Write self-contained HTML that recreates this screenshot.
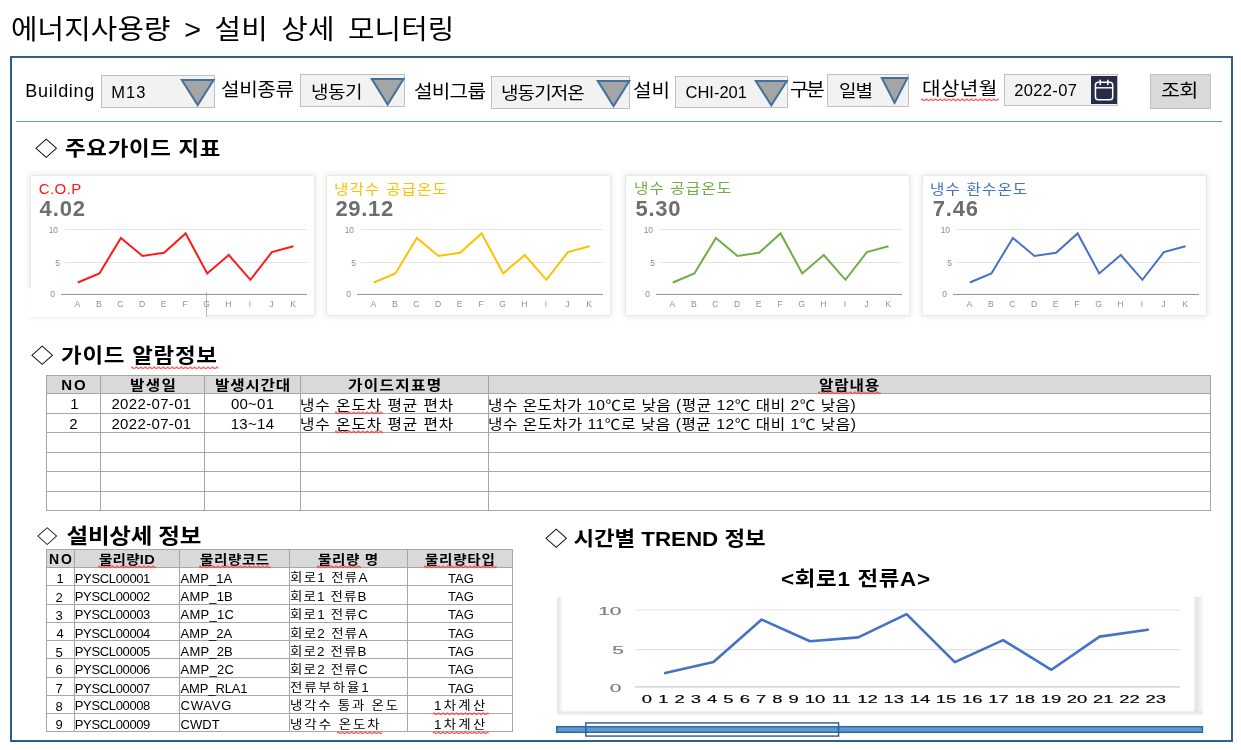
<!DOCTYPE html>
<html lang="ko">
<head>
<meta charset="utf-8">
<title>에너지사용량 &gt; 설비 상세 모니터링</title>
<style>
html,body{margin:0;padding:0;background:#fff;}
body{width:1241px;height:750px;position:relative;overflow:hidden;
  font-family:"Liberation Sans","Noto Sans CJK KR",sans-serif;color:#000;}
.abs{position:absolute;white-space:nowrap;line-height:1;}
.kx{transform:scaleX(1.12);transform-origin:0 0;}
#frame{position:absolute;left:10px;top:56px;width:1219px;height:682px;border:2px solid #2c5f8e;box-sizing:content-box;}
#hline{position:absolute;left:16px;top:121px;width:1206px;height:1px;background:#5b9bd5;}
.lbl{font-size:18px;}
.sel{position:absolute;background:#f2f2f2;border:1px solid #bfbfbf;box-sizing:border-box;}
.sel span{position:absolute;white-space:nowrap;line-height:1;font-size:16.5px;}
.tri{position:absolute;overflow:visible;}
.h2{font-weight:bold;font-size:20px;}
.card{position:absolute;top:176px;width:283px;height:139px;background:#fff;
  box-shadow:0 0 1px 0 rgba(0,0,0,.22),0 0 6px 2px rgba(0,0,0,.09);}
.card .t{position:absolute;left:9px;top:7px;font-size:14px;line-height:1;white-space:nowrap;}
.card .v{position:absolute;left:9px;top:25px;font-size:22px;font-weight:bold;color:#6e6e6e;line-height:1;white-space:nowrap;}
.card svg{position:absolute;left:0;top:0;}
table{border-collapse:collapse;position:absolute;table-layout:fixed;}
td,th{border:1px solid #a6a6a6;padding:0;line-height:1;white-space:nowrap;overflow:visible;font-weight:normal;}
th{background:#d9d9d9;font-weight:bold;text-align:center;}

td span,th span{display:inline-block;position:relative;white-space:nowrap;line-height:1;}
#t1{left:46px;top:375px;width:1164px;font-size:15px;}
#t1 th{font-size:14px;}
#t1 th #ah0{font-size:15px;}
#t1 td{text-align:center;}
#t1 td.l{font-size:14px;}
#t1 td.l{text-align:left;}
.sq{position:relative;display:inline-block;text-decoration:none;line-height:1;}
.sq>svg{position:absolute;left:-1px;bottom:-3.2px;width:calc(100% + 2px);height:3.4px;overflow:hidden;}
#t2{left:46px;top:549px;width:467px;font-size:13px;}
#t2 th{font-size:13px;}
#t2 th #bh0{font-size:14px;}
#t2 .kx{font-size:12px;}
#t2 th .kx{font-size:13px;}
#t2 td{text-align:left;}
#t2 td.c{text-align:center;}
</style>
</head>
<body>
<svg width="0" height="0" style="position:absolute"><defs><pattern id="sqp" width="4" height="3.4" patternUnits="userSpaceOnUse"><path d="M-1,2.95 L1,0.95 L3,2.95 L5,0.95" fill="none" stroke="#ff3030" stroke-width="0.95"/></pattern></defs></svg>
<div id="title" class="abs kx" style="left:11.0px;top:17.0px;font-size:27px;letter-spacing:0.15px;word-spacing:5px;transform:scaleX(1.065)">에너지사용량 &gt; 설비 상세 모니터링</div>
<div id="frame"></div>
<div id="hline"></div>

<!-- FILTER BAR -->
<div id="l1" class="abs lbl" style="left:25.3px;top:81.5px;font-size:18px;letter-spacing:0.71px">Building</div>
<div class="sel" style="left:101px;top:75px;width:114px;height:33px"><span id="s1" style="left:9.2px;top:8.1px;letter-spacing:1.1px">M13</span></div>
<svg class="tri" style="left:180.4px;top:79.3px" width="35.4" height="28.1" viewBox="0 0 35.4 28.1"><polygon points="1.8,1 33.6,1 17.70,26.1" fill="#a5a5a5" stroke="#41719c" stroke-width="2" stroke-linejoin="miter"/></svg>
<div id="l2" class="abs kx lbl" style="left:221.0px;top:81.0px;letter-spacing:-0.34px">설비종류</div>
<div class="sel" style="left:300px;top:74px;width:105px;height:33px"><span id="s2" class="kx" style="left:10.0px;top:8.5px;font-size:17px;letter-spacing:-0.5px">냉동기</span></div>
<svg class="tri" style="left:370.4px;top:77.7px" width="35.3" height="28.5" viewBox="0 0 35.3 28.5"><polygon points="1.8,1 33.5,1 17.65,26.5" fill="#a5a5a5" stroke="#41719c" stroke-width="2" stroke-linejoin="miter"/></svg>
<div id="l3" class="abs kx lbl" style="left:414.0px;top:83.0px;letter-spacing:-0.67px">설비그룹</div>
<div class="sel" style="left:491px;top:76px;width:139px;height:33px"><span id="s3" class="kx" style="left:9.3px;top:8.0px;font-size:17px;letter-spacing:-0.85px">냉동기저온</span></div>
<svg class="tri" style="left:595.6px;top:79.9px" width="35.1" height="28.1" viewBox="0 0 35.1 28.1"><polygon points="1.8,1 33.3,1 17.55,26.1" fill="#a5a5a5" stroke="#41719c" stroke-width="2" stroke-linejoin="miter"/></svg>
<div id="l4" class="abs kx lbl" style="left:633.0px;top:82.0px;letter-spacing:0.0px">설비</div>
<div class="sel" style="left:675px;top:76px;width:113px;height:32px"><span id="s4" style="left:9.5px;top:7.0px">CHI-201</span></div>
<svg class="tri" style="left:754px;top:79.5px" width="34.6" height="27.3" viewBox="0 0 34.6 27.3"><polygon points="1.8,1 32.8,1 17.30,25.3" fill="#a5a5a5" stroke="#41719c" stroke-width="2" stroke-linejoin="miter"/></svg>
<div id="l5" class="abs kx lbl" style="left:789.7px;top:81.0px;letter-spacing:-2.0px">구분</div>
<div class="sel" style="left:827px;top:74px;width:82px;height:33px"><span id="s5" class="kx" style="left:11.0px;top:8.0px;font-size:17px;letter-spacing:-1.0px">일별</span></div>
<svg class="tri" style="left:879.8px;top:77.4px" width="29.2" height="27.9" viewBox="0 0 29.2 27.9"><polygon points="1.8,1 27.4,1 14.60,25.9" fill="#a5a5a5" stroke="#41719c" stroke-width="2" stroke-linejoin="miter"/></svg>
<div id="l6" class="abs kx lbl" style="left:922.0px;top:80.0px;letter-spacing:0.33px"><span class="sq">대상년월<svg aria-hidden="true"><rect width="100%" height="3.4" fill="url(#sqp)"/></svg></span></div>
<div class="sel" style="left:1004px;top:74px;width:114px;height:32px"><span id="s6" style="left:9.3px;top:7.0px;letter-spacing:0.33px">2022-07</span></div>
<div id="cal" style="position:absolute;left:1091px;top:76px;width:26px;height:28px;background:#272c4a">
<svg width="26" height="28" viewBox="0 0 26 28"><rect x="4.45" y="6.25" width="17.25" height="17.6" rx="2.8" fill="none" stroke="#fff" stroke-width="1.5"/><line x1="4.45" y1="11.8" x2="21.7" y2="11.8" stroke="#fff" stroke-width="1.4"/><line x1="9.2" y1="4.4" x2="9.2" y2="8.4" stroke="#fff" stroke-width="1.6" stroke-linecap="round"/><line x1="16.8" y1="4.4" x2="16.8" y2="8.4" stroke="#fff" stroke-width="1.6" stroke-linecap="round"/></svg></div>
<div id="btn" style="position:absolute;left:1150px;top:74px;width:61px;height:35px;background:#d9d9d9;border:1px solid #bfbfbf;box-sizing:border-box"><span id="s7" class="abs kx" style="left:10.3px;top:7.1px;font-size:18.5px;letter-spacing:-0.7px">조회</span></div>
<!-- SECTION1 -->
<div id="h1" class="abs h2 kx" style="left:34.8px;top:139.0px;letter-spacing:0.63px">◇ 주요가이드 지표</div>
<div class="card" style="left:31px">
<div style="position:absolute;left:-5px;top:112px;width:180px;height:29px;background:#fff"></div><div style="position:absolute;left:175px;top:116px;width:1px;height:25px;background:#bdbdbd"></div>
<svg width="283" height="139" viewBox="0 0 283 139">
<g stroke="#e4e4e4" stroke-width="1"><line x1="33.5" y1="53.5" x2="276" y2="53.5"/><line x1="33.5" y1="86.5" x2="276" y2="86.5"/></g>
<line x1="30" y1="118.4" x2="276" y2="118.4" stroke="#8f8f8f" stroke-width="1"/>
<g font-family="Liberation Sans, sans-serif" font-size="8.4" fill="#8c8c8c" text-anchor="end"><text x="27" y="56.5">10</text><text x="29" y="89.5">5</text><text x="24" y="121">0</text></g>
<g font-family="Liberation Sans, sans-serif" font-size="8.6" fill="#919191" text-anchor="middle"><text x="46.3" y="131">A</text><text x="67.9" y="131">B</text><text x="89.4" y="131">C</text><text x="111.0" y="131">D</text><text x="132.6" y="131">E</text><text x="154.1" y="131">F</text><text x="175.7" y="131">G</text><text x="197.3" y="131">H</text><text x="218.9" y="131">I</text><text x="240.4" y="131">J</text><text x="262.0" y="131">K</text></g>
<polyline points="46.8,106.5 68.4,97.4 89.9,61.9 111.5,79.9 133.1,76.7 154.6,57.4 176.2,97.4 197.8,79.0 219.4,103.8 240.9,76.1 262.5,70.3" fill="none" stroke="#ff1a1a" stroke-width="2" stroke-linejoin="miter"/>
</svg>
<div id="ct1" class="t" style="left:7.8px;top:5.0px;color:#ff1a1a;font-size:15px;letter-spacing:0.4px">C.O.P</div>
<div id="cv1" class="v" style="left:8.6px;top:21.6px;letter-spacing:0.86px">4.02</div>
</div>
<div class="card" style="left:327px">
<svg width="283" height="139" viewBox="0 0 283 139">
<g stroke="#e4e4e4" stroke-width="1"><line x1="33.5" y1="53.5" x2="276" y2="53.5"/><line x1="33.5" y1="86.5" x2="276" y2="86.5"/></g>
<line x1="30" y1="118.4" x2="276" y2="118.4" stroke="#8f8f8f" stroke-width="1"/>
<g font-family="Liberation Sans, sans-serif" font-size="8.4" fill="#8c8c8c" text-anchor="end"><text x="27" y="56.5">10</text><text x="29" y="89.5">5</text><text x="24" y="121">0</text></g>
<g font-family="Liberation Sans, sans-serif" font-size="8.6" fill="#919191" text-anchor="middle"><text x="46.3" y="131">A</text><text x="67.9" y="131">B</text><text x="89.4" y="131">C</text><text x="111.0" y="131">D</text><text x="132.6" y="131">E</text><text x="154.1" y="131">F</text><text x="175.7" y="131">G</text><text x="197.3" y="131">H</text><text x="218.9" y="131">I</text><text x="240.4" y="131">J</text><text x="262.0" y="131">K</text></g>
<polyline points="46.8,106.5 68.4,97.4 89.9,61.9 111.5,79.9 133.1,76.7 154.6,57.4 176.2,97.4 197.8,79.0 219.4,103.8 240.9,76.1 262.5,70.3" fill="none" stroke="#ffc000" stroke-width="2" stroke-linejoin="miter"/>
</svg>
<div id="ct2" class="t kx" style="left:7.4px;top:5.5px;color:#ffc000;letter-spacing:0.97px">냉각수 공급온도</div>
<div id="cv2" class="v" style="left:8.4px;top:21.6px;letter-spacing:0.7px">29.12</div>
</div>
<div class="card" style="left:626px">
<svg width="283" height="139" viewBox="0 0 283 139">
<g stroke="#e4e4e4" stroke-width="1"><line x1="33.5" y1="53.5" x2="276" y2="53.5"/><line x1="33.5" y1="86.5" x2="276" y2="86.5"/></g>
<line x1="30" y1="118.4" x2="276" y2="118.4" stroke="#8f8f8f" stroke-width="1"/>
<g font-family="Liberation Sans, sans-serif" font-size="8.4" fill="#8c8c8c" text-anchor="end"><text x="27" y="56.5">10</text><text x="29" y="89.5">5</text><text x="24" y="121">0</text></g>
<g font-family="Liberation Sans, sans-serif" font-size="8.6" fill="#919191" text-anchor="middle"><text x="46.3" y="131">A</text><text x="67.9" y="131">B</text><text x="89.4" y="131">C</text><text x="111.0" y="131">D</text><text x="132.6" y="131">E</text><text x="154.1" y="131">F</text><text x="175.7" y="131">G</text><text x="197.3" y="131">H</text><text x="218.9" y="131">I</text><text x="240.4" y="131">J</text><text x="262.0" y="131">K</text></g>
<polyline points="46.8,106.5 68.4,97.4 89.9,61.9 111.5,79.9 133.1,76.7 154.6,57.4 176.2,97.4 197.8,79.0 219.4,103.8 240.9,76.1 262.5,70.3" fill="none" stroke="#70ad47" stroke-width="2" stroke-linejoin="miter"/>
</svg>
<div id="ct3" class="t kx" style="left:7.6px;top:4.5px;color:#70ad47;letter-spacing:0.92px">냉수 공급온도</div>
<div id="cv3" class="v" style="left:9.4px;top:21.6px;letter-spacing:0.79px">5.30</div>
</div>
<div class="card" style="left:923px">
<svg width="283" height="139" viewBox="0 0 283 139">
<g stroke="#e4e4e4" stroke-width="1"><line x1="33.5" y1="53.5" x2="276" y2="53.5"/><line x1="33.5" y1="86.5" x2="276" y2="86.5"/></g>
<line x1="30" y1="118.4" x2="276" y2="118.4" stroke="#8f8f8f" stroke-width="1"/>
<g font-family="Liberation Sans, sans-serif" font-size="8.4" fill="#8c8c8c" text-anchor="end"><text x="27" y="56.5">10</text><text x="29" y="89.5">5</text><text x="24" y="121">0</text></g>
<g font-family="Liberation Sans, sans-serif" font-size="8.6" fill="#919191" text-anchor="middle"><text x="46.3" y="131">A</text><text x="67.9" y="131">B</text><text x="89.4" y="131">C</text><text x="111.0" y="131">D</text><text x="132.6" y="131">E</text><text x="154.1" y="131">F</text><text x="175.7" y="131">G</text><text x="197.3" y="131">H</text><text x="218.9" y="131">I</text><text x="240.4" y="131">J</text><text x="262.0" y="131">K</text></g>
<polyline points="46.8,106.5 68.4,97.4 89.9,61.9 111.5,79.9 133.1,76.7 154.6,57.4 176.2,97.4 197.8,79.0 219.4,103.8 240.9,76.1 262.5,70.3" fill="none" stroke="#4472c4" stroke-width="2" stroke-linejoin="miter"/>
</svg>
<div id="ct4" class="t kx" style="left:7.4px;top:5.5px;color:#4472c4;letter-spacing:0.95px">냉수 환수온도</div>
<div id="cv4" class="v" style="left:9.8px;top:21.6px;letter-spacing:0.79px">7.46</div>
</div>
<!-- SECTION2 -->
<div id="h2" class="abs h2 kx" style="left:31.0px;top:346.0px;font-size:20px;letter-spacing:0.67px">◇ 가이드 <span class="sq">알람정보<svg aria-hidden="true"><rect width="100%" height="3.4" fill="url(#sqp)"/></svg></span></div>
<table id="t1">
<colgroup><col style="width:54px"><col style="width:104px"><col style="width:96px"><col style="width:188px"><col style="width:722px"></colgroup>
<tr style="height:18px"><th><span id="ah0" style="left:1.0px;top:0.0px;letter-spacing:2.0px">NO</span></th><th><span id="ah1" class="kx" style="left:-1.0px;top:0.0px;letter-spacing:1.13px">발생일</span></th><th><span id="ah2" class="kx" style="left:-4.0px;top:0.0px;letter-spacing:0.68px">발생시간대</span></th><th><span id="ah3" class="kx" style="left:-4.0px;top:0.0px;letter-spacing:1.2px">가이드지표명</span></th><th><span id="ah4" class="kx" style="left:-3.6px;top:0.0px;letter-spacing:0.74px"><span class="sq">알람내용<svg aria-hidden="true"><rect width="100%" height="3.4" fill="url(#sqp)"/></svg></span></span></th></tr>
<tr style="height:20px"><td><span id="a10" style="left:0.8px;top:0.0px">1</span></td><td><span id="a11" style="left:-1.0px;top:0.0px;letter-spacing:0.34px">2022-07-01</span></td><td><span id="a12" style="left:0.1px;top:0.0px;letter-spacing:0.24px">00~01</span></td><td class="l"><span id="a13" class="kx" style="left:-1.0px;top:1.0px;letter-spacing:0.84px">냉수 <span class="sq">온도차<svg aria-hidden="true"><rect width="100%" height="3.4" fill="url(#sqp)"/></svg></span> 평균 편차</span></td><td class="l"><span id="a14" class="kx" style="left:-1.0px;top:1.0px;letter-spacing:0.43px">냉수 온도차가 10℃로 낮음 (평균 12℃ 대비 2℃ 낮음)</span></td></tr>
<tr style="height:19px"><td><span id="a20" style="left:0.0px;top:0.6px">2</span></td><td><span id="a21" style="left:-1.0px;top:0.6px;letter-spacing:0.34px">2022-07-01</span></td><td><span id="a22" style="left:0.0px;top:0.6px;letter-spacing:0.32px">13~14</span></td><td class="l"><span id="a23" class="kx" style="left:-1.0px;top:0.6px;letter-spacing:0.84px">냉수 <span class="sq">온도차<svg aria-hidden="true"><rect width="100%" height="3.4" fill="url(#sqp)"/></svg></span> 평균 편차</span></td><td class="l"><span id="a24" class="kx" style="left:-1.0px;top:0.6px;letter-spacing:0.47px">냉수 온도차가 11℃로 낮음 (평균 12℃ 대비 1℃ 낮음)</span></td></tr>
<tr style="height:20px"><td></td><td></td><td></td><td></td><td></td></tr>
<tr style="height:19px"><td></td><td></td><td></td><td></td><td></td></tr>
<tr style="height:20px"><td></td><td></td><td></td><td></td><td></td></tr>
<tr style="height:19px"><td></td><td></td><td></td><td></td><td></td></tr>
</table>
<!-- SECTION3 -->
<div id="h3" class="abs h2 kx" style="left:37.2px;top:524.9px;font-size:21px;letter-spacing:-0.24px"><span style="display:inline-block;transform:scale(.87);transform-origin:0 88%">◇</span> 설비상세 정보</div>
<table id="t2">
<colgroup><col style="width:28px"><col style="width:105px"><col style="width:110px"><col style="width:118px"><col style="width:105px"></colgroup>
<tr style="height:18px"><th><span id="bh0" style="left:1.0px;top:0.5px;letter-spacing:2.0px">NO</span></th><th><span id="bh1" class="kx" style="left:-2.8px;top:0.6px;letter-spacing:0.2px"><span class="sq">물리량ID<svg aria-hidden="true"><rect width="100%" height="3.4" fill="url(#sqp)"/></svg></span></span></th><th><span id="bh2" class="kx" style="left:-3.6px;top:0.6px;letter-spacing:0.51px"><span class="sq">물리량코드<svg aria-hidden="true"><rect width="100%" height="3.4" fill="url(#sqp)"/></svg></span></span></th><th><span id="bh3" class="kx" style="left:-3.0px;top:0.6px;letter-spacing:0.57px"><span class="sq">물리량<svg aria-hidden="true"><rect width="100%" height="3.4" fill="url(#sqp)"/></svg></span> 명</span></th><th><span id="bh4" class="kx" style="left:-3.1px;top:0.6px;letter-spacing:0.65px"><span class="sq">물리량타입<svg aria-hidden="true"><rect width="100%" height="3.4" fill="url(#sqp)"/></svg></span></span></th></tr>
<tr style="height:18px"><td class="c"><span id="b10" style="left:-0.5px;top:2.3px">1</span></td><td><span id="b11" style="left:-0.2px;top:1.7px;letter-spacing:-0.36px">PYSCL00001</span></td><td><span id="b12" style="left:0.6px;top:1.7px;letter-spacing:0.08px">AMP_1A</span></td><td><span id="b13" class="kx" style="left:0.0px;top:1.2px;letter-spacing:1.16px">회로1 전류A</span></td><td class="c"><span id="b14" style="left:0.9px;top:1.7px;letter-spacing:-0.0px">TAG</span></td></tr>
<tr style="height:19px"><td class="c"><span id="b20" style="left:-1.5px;top:2.2px">2</span></td><td><span id="b21" style="left:-0.2px;top:1.6px;letter-spacing:-0.36px">PYSCL00002</span></td><td><span id="b22" style="left:0.6px;top:1.6px;letter-spacing:0.16px">AMP_1B</span></td><td><span id="b23" class="kx" style="left:0.0px;top:1.1px;letter-spacing:1.0px">회로1 전류B</span></td><td class="c"><span id="b24" style="left:0.9px;top:1.6px;letter-spacing:-0.0px">TAG</span></td></tr>
<tr style="height:18px"><td class="c"><span id="b30" style="left:-1.5px;top:1.8px">3</span></td><td><span id="b31" style="left:-0.2px;top:1.2px;letter-spacing:-0.36px">PYSCL00003</span></td><td><span id="b32" style="left:0.6px;top:1.2px;letter-spacing:0.24px">AMP_1C</span></td><td><span id="b33" class="kx" style="left:0.0px;top:0.7px;letter-spacing:1.09px">회로1 전류C</span></td><td class="c"><span id="b34" style="left:0.9px;top:1.2px;letter-spacing:-0.0px">TAG</span></td></tr>
<tr style="height:18px"><td class="c"><span id="b40" style="left:-0.5px;top:1.7px">4</span></td><td><span id="b41" style="left:-0.2px;top:2.1px;letter-spacing:-0.36px">PYSCL00004</span></td><td><span id="b42" style="left:0.6px;top:2.1px;letter-spacing:0.08px">AMP_2A</span></td><td><span id="b43" class="kx" style="left:0.0px;top:1.6px;letter-spacing:1.16px">회로2 전류A</span></td><td class="c"><span id="b44" style="left:0.9px;top:2.1px;letter-spacing:-0.0px">TAG</span></td></tr>
<tr style="height:18px"><td class="c"><span id="b50" style="left:-1.5px;top:2.6px">5</span></td><td><span id="b51" style="left:-0.2px;top:2.0px;letter-spacing:-0.36px">PYSCL00005</span></td><td><span id="b52" style="left:0.6px;top:2.0px;letter-spacing:0.16px">AMP_2B</span></td><td><span id="b53" class="kx" style="left:0.0px;top:1.5px;letter-spacing:1.0px">회로2 전류B</span></td><td class="c"><span id="b54" style="left:0.9px;top:2.0px;letter-spacing:-0.0px">TAG</span></td></tr>
<tr style="height:19px"><td class="c"><span id="b60" style="left:-1.5px;top:1.5px">6</span></td><td><span id="b61" style="left:-0.2px;top:1.6px;letter-spacing:-0.36px">PYSCL00006</span></td><td><span id="b62" style="left:0.6px;top:1.6px;letter-spacing:0.24px">AMP_2C</span></td><td><span id="b63" class="kx" style="left:0.0px;top:1.4px;letter-spacing:1.09px">회로2 전류C</span></td><td class="c"><span id="b64" style="left:0.9px;top:1.6px;letter-spacing:-0.0px">TAG</span></td></tr>
<tr style="height:18px"><td class="c"><span id="b70" style="left:-1.5px;top:2.1px">7</span></td><td><span id="b71" style="left:-0.2px;top:1.5px;letter-spacing:-0.36px">PYSCL00007</span></td><td><span id="b72" style="left:0.6px;top:1.5px;letter-spacing:-0.15px">AMP_RLA1</span></td><td><span id="b73" class="kx" style="left:0.0px;top:1.0px;letter-spacing:1.7px">전류부하율1</span></td><td class="c"><span id="b74" style="left:0.9px;top:1.5px;letter-spacing:-0.0px">TAG</span></td></tr>
<tr style="height:18px"><td class="c"><span id="b80" style="left:-1.5px;top:2.0px">8</span></td><td><span id="b81" style="left:-0.2px;top:1.4px;letter-spacing:-0.36px">PYSCL00008</span></td><td><span id="b82" style="left:0.6px;top:1.4px;letter-spacing:0.75px">CWAVG</span></td><td><span id="b83" class="kx" style="left:0.0px;top:0.9px;letter-spacing:1.56px">냉각수 통과 온도</span></td><td class="c"><span id="b84" class="kx" style="left:-2.0px;top:0.9px;letter-spacing:1.99px"><span class="sq">1차계산<svg aria-hidden="true"><rect width="100%" height="3.4" fill="url(#sqp)"/></svg></span></span></td></tr>
<tr style="height:18px"><td class="c"><span id="b90" style="left:-1.5px;top:1.9px">9</span></td><td><span id="b91" style="left:-0.2px;top:2.3px;letter-spacing:-0.36px">PYSCL00009</span></td><td><span id="b92" style="left:0.6px;top:2.3px;letter-spacing:0.03px">CWDT</span></td><td><span id="b93" class="kx" style="left:0.0px;top:1.8px;letter-spacing:1.75px">냉각수 <span class="sq">온도차<svg aria-hidden="true"><rect width="100%" height="3.4" fill="url(#sqp)"/></svg></span></span></td><td class="c"><span id="b94" class="kx" style="left:-2.0px;top:1.8px;letter-spacing:1.99px"><span class="sq">1차계산<svg aria-hidden="true"><rect width="100%" height="3.4" fill="url(#sqp)"/></svg></span></span></td></tr>
</table>
<!-- SECTION4 -->
<div id="h4" class="abs h2 kx" style="left:545.1px;top:529.0px;font-size:20px;letter-spacing:-0.05px">◇ 시간별 TREND 정보</div>
<div id="ctitle" class="abs kx" style="left:781.4px;top:569.0px;font-size:20px;font-weight:bold;letter-spacing:0.62px">&lt;회로1 전류A&gt;</div>
<div id="trend" style="position:absolute;left:557px;top:597px;width:646px;height:118px;background:linear-gradient(to right,#e2e2e2 0,#efefef 3px,#fff 6px,#fff 637px,#e4e4e4 638px,#ededed 642px,#f8f8f8 646px)">
<div style="position:absolute;left:0;top:113px;width:646px;height:5px;background:linear-gradient(to bottom,rgba(255,255,255,0),#e6e6e6 50%,#f6f6f6)"></div>
<svg width="646" height="118" viewBox="0 0 646 118" style="position:absolute;left:0;top:0;filter:blur(0.35px)">
<g stroke="#e3e3e3" stroke-width="1.2"><line x1="78" y1="13" x2="623" y2="13"/><line x1="78" y1="52.7" x2="623" y2="52.7"/></g>
<line x1="78" y1="89.9" x2="623" y2="89.9" stroke="#c9c9c9" stroke-width="1.2"/>
<g font-family="Liberation Sans, sans-serif" font-size="10.5" fill="#7d7d7d" stroke="#7d7d7d" stroke-width="0.15" text-anchor="end"><text transform="translate(64.5,17.8) scale(2,1)">10</text><text transform="translate(67,56.9) scale(2,1)">5</text><text transform="translate(64.5,95.0) scale(2,1)">0</text></g>
<g font-family="Liberation Sans, sans-serif" font-size="11.4" fill="#000" stroke="#000" stroke-width="0.15" text-anchor="middle"><text transform="translate(90.0,105.6) scale(1.62,1)">0</text><text transform="translate(106.3,105.6) scale(1.62,1)">1</text><text transform="translate(122.6,105.6) scale(1.62,1)">2</text><text transform="translate(138.9,105.6) scale(1.62,1)">3</text><text transform="translate(155.2,105.6) scale(1.62,1)">4</text><text transform="translate(171.5,105.6) scale(1.62,1)">5</text><text transform="translate(187.8,105.6) scale(1.62,1)">6</text><text transform="translate(204.1,105.6) scale(1.62,1)">7</text><text transform="translate(220.4,105.6) scale(1.62,1)">8</text><text transform="translate(236.7,105.6) scale(1.62,1)">9</text><text transform="translate(258.1,105.6) scale(1.62,1)">10</text><text transform="translate(284.3,105.6) scale(1.62,1)">11</text><text transform="translate(310.5,105.6) scale(1.62,1)">12</text><text transform="translate(336.7,105.6) scale(1.62,1)">13</text><text transform="translate(362.9,105.6) scale(1.62,1)">14</text><text transform="translate(389.1,105.6) scale(1.62,1)">15</text><text transform="translate(415.3,105.6) scale(1.62,1)">16</text><text transform="translate(441.5,105.6) scale(1.62,1)">17</text><text transform="translate(467.7,105.6) scale(1.62,1)">18</text><text transform="translate(493.9,105.6) scale(1.62,1)">19</text><text transform="translate(520.1,105.6) scale(1.62,1)">20</text><text transform="translate(546.3,105.6) scale(1.62,1)">21</text><text transform="translate(572.5,105.6) scale(1.62,1)">22</text><text transform="translate(598.7,105.6) scale(1.62,1)">23</text></g>
<polyline points="108.2,76.1 156.5,65.1 204.7,22.6 253.0,44.3 301.3,40.4 349.6,17.2 397.8,65.1 446.1,43.1 494.4,72.8 542.6,39.6 590.9,32.7" fill="none" stroke="#4472c4" stroke-width="2.6" stroke-linejoin="round" stroke-linecap="round"/>
</svg>
</div>
<svg id="sbar" style="position:absolute;left:550px;top:718px" width="660" height="22" viewBox="550 718 660 22">
<rect x="556.8" y="726.7" width="645.6" height="5.6" fill="#5b9bd5" stroke="#35679b" stroke-width="1.5"/>
<rect x="585.9" y="723" width="252.6" height="13" fill="none" stroke="#2e6096" stroke-width="1.6"/>
<rect x="586.7" y="723.8" width="251" height="2.1" fill="#fff"/><rect x="586.7" y="733.1" width="251" height="2.1" fill="#fff"/>
</svg>
</body>
</html>
